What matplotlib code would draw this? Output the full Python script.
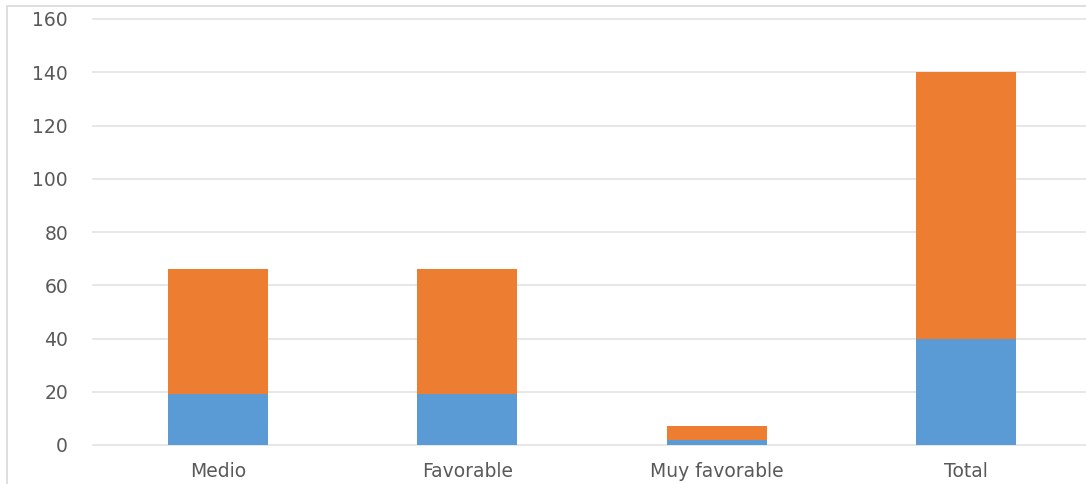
import matplotlib
matplotlib.use("Agg")
import matplotlib.pyplot as plt
from matplotlib.patches import Rectangle

categories = ["Medio", "Favorable", "Muy favorable", "Total"]
blue_vals = [19, 19, 2, 40]
orange_vals = [47, 47, 5, 100]
yticks = [0, 20, 40, 60, 80, 100, 120, 140, 160]

W, H = 1086, 484
fig = plt.figure(figsize=(W / 100, H / 100), dpi=100)
fig.patch.set_facecolor("white")

# outer chart border
fig.patches.append(Rectangle((7 / W, -0.05), 1.1, (H - 6) / H + 0.05,
                             transform=fig.transFigure, fill=False,
                             edgecolor="#d9d9d9", linewidth=1.2, zorder=0))

left = 93 / W
right = 1091 / W
bottom = (H - 445) / H
top = (H - 19) / H
ax = fig.add_axes([left, bottom, right - left, top - bottom])

x = list(range(len(categories)))
ax.bar(x, blue_vals, width=0.4, color="#5b9bd5", zorder=2)
ax.bar(x, orange_vals, width=0.4, bottom=blue_vals, color="#ed7d31", zorder=2)

ax.set_xlim(-0.5, len(categories) - 0.5)
ax.set_ylim(0, 160)
ax.set_yticks(yticks)
ax.set_yticklabels([str(v) for v in yticks])
ax.set_xticks(x)
ax.set_xticklabels(categories)

for v in yticks:
    ax.axhline(v, color="#e3e3e3", linewidth=1.2, zorder=1, clip_on=False)

for s in ax.spines.values():
    s.set_visible(False)
ax.tick_params(axis="both", length=0, colors="#595959", labelsize=13.5)
ax.tick_params(axis="y", pad=18)
ax.tick_params(axis="x", pad=12)
ax.set_facecolor("none")

fig.savefig("out.png", dpi=100)
